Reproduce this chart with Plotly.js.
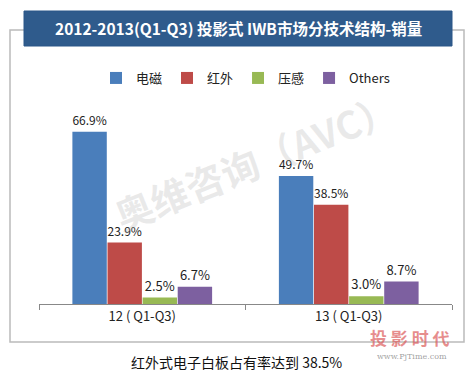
<!DOCTYPE html>
<html><head><meta charset="utf-8">
<script src="https://cdn.plot.ly/plotly-3.0.1.min.js"></script>
<style>html,body{margin:0;padding:0;background:#fff}</style>
</head><body>
<div id="chart" style="width:473px;height:377px"></div>
<script>
const categories = ["12 ( Q1-Q3)", "13 ( Q1-Q3)"];
const seriesNames = ["电磁", "红外", "压感", "Others"];
const valsEM = [66.9, 49.7];
const valsIR = [23.9, 38.5];
const valsPR = [2.5, 3.0];
const valsOT = [6.7, 8.7];
const seriesValues = [valsEM, valsIR, valsPR, valsOT];
const colors = ["#4a7ebb", "#be4b48", "#98b954", "#7d60a0"];

const W = 473, H = 377;
const M = {l: 39, r: 21, t: 98, b: 73};
const pw = W - M.l - M.r, ph = H - M.t - M.b;
const px = x => (x - M.l) / pw;
const py = y => (H - M.b - y) / ph;

const font = "'Microsoft YaHei','Noto Sans CJK SC','Noto Sans',sans-serif";

const traces = seriesNames.map((n, i) => ({
  type: 'bar', name: n, x: categories, y: seriesValues[i],
  marker: {color: colors[i]},
  text: seriesValues[i].map(v => v.toFixed(1) + '%'),
  textposition: 'outside', cliponaxis: false,
  textfont: {size: 13, color: '#222', family: font}
}));

function ann(x, y, text, f, extra) {
  return Object.assign({xref: 'paper', yref: 'paper', x: px(x), y: py(y), text: text,
    xanchor: 'center', yanchor: 'middle', showarrow: false, font: f}, extra || {});
}

const layout = {
  width: W, height: H, margin: M,
  paper_bgcolor: '#fff', plot_bgcolor: 'rgba(0,0,0,0)',
  barmode: 'group', bargap: 0.32, bargroupgap: 0.02,
  showlegend: true,
  legend: {orientation: 'h', x: 0.5, xanchor: 'center', y: py(78), yanchor: 'middle',
           font: {size: 13, color: '#222', family: font}, itemwidth: 30, traceorder: 'normal'},
  xaxis: {type: 'category', showline: true, linecolor: '#888', linewidth: 1,
          ticks: 'outside', tickson: 'boundaries', ticklen: 5, tickcolor: '#888',
          tickfont: {size: 13, color: '#222', family: font}, showgrid: false, zeroline: false, fixedrange: true},
  yaxis: {range: [0, 80], visible: false, showgrid: false, zeroline: false, fixedrange: true},
  shapes: [
    {type: 'rect', xref: 'paper', yref: 'paper', x0: px(10), x1: px(464), y0: py(342), y1: py(30),
     line: {color: '#bbb', width: 1.5}, fillcolor: 'rgba(0,0,0,0)', layer: 'below'},
    {type: 'rect', xref: 'paper', yref: 'paper', x0: px(24), x1: px(452), y0: py(46), y1: py(11),
     line: {color: '#2a5688', width: 1}, fillcolor: '#2f5b8c', layer: 'above'}
  ],
  annotations: [
    ann(238, 28, '<b>2012-2013(Q1-Q3) 投影式 IWB市场分技术结构-销量</b>', {size: 15.5, color: '#fff', family: font}),
    ann(255, 160, '<b>奥维咨询（AVC）</b>', {size: 38, color: 'rgba(170,170,170,0.25)', family: font}, {textangle: -22}),
    ann(236, 362, '红外式电子白板占有率达到 38.5%', {size: 14, color: '#111', family: font}),
    ann(410, 337, '<b>投 影 时 代</b>', {size: 17, color: 'rgba(220,90,90,0.7)', family: font}),
    ann(412, 356, 'www.PjTime.com', {size: 8, color: 'rgba(150,150,150,0.9)', family: 'DejaVu Serif'})
  ]
};

Plotly.newPlot('chart', traces, layout, {displayModeBar: false, staticPlot: true});
</script>
</body></html>
